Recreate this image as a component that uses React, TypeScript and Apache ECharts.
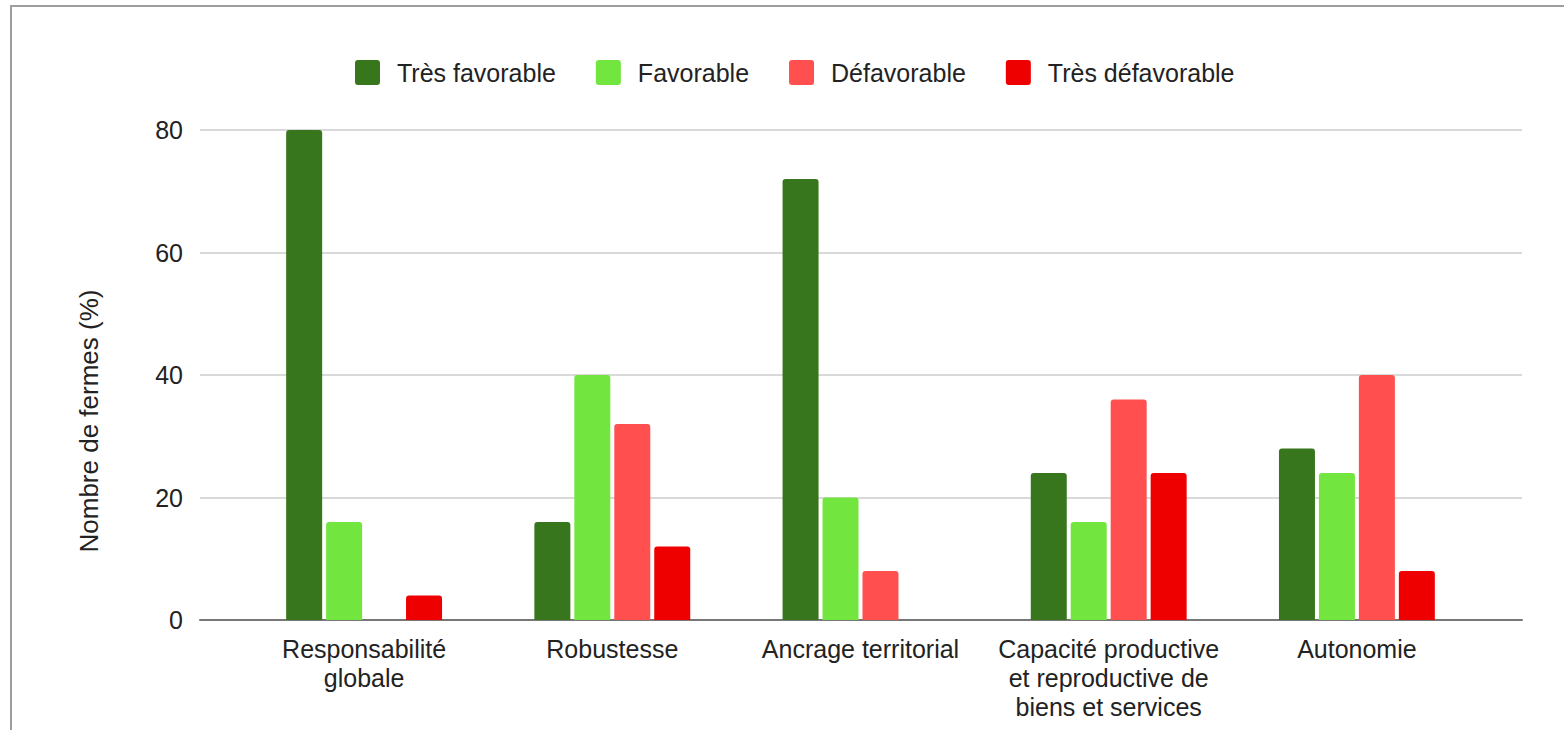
import React, { useEffect, useRef } from "react";
import * as echarts from "echarts";

const categories = [
  "Responsabilité\nglobale",
  "Robustesse",
  "Ancrage territorial",
  "Capacité productive\net reproductive de\nbiens et services",
  "Autonomie",
];
const seriesNames = ["Très favorable", "Favorable", "Défavorable", "Très défavorable"];
const tresFavorable = [80, 16, 72, 24, 28];
const favorable = [16, 40, 20, 16, 24];
const defavorable = [0, 32, 8, 36, 40];
const tresDefavorable = [4, 12, 0, 24, 8];
const colors = ["#38761d", "#72e63e", "#ff4f4f", "#ee0000"];
const yTicks = [0, 20, 40, 60, 80];
const yTitle = "Nombre de fermes (%)";

export default function App() {
  const ref = useRef<HTMLDivElement>(null);
  useEffect(() => {
    if (!ref.current) return;
    const chart = echarts.init(ref.current, null, { renderer: "svg" });
    const font = "'Liberation Sans', Arial, sans-serif";
    const values = [tresFavorable, favorable, defavorable, tresDefavorable];
    chart.setOption({
      animation: false,
      backgroundColor: "#ffffff",
      textStyle: { fontFamily: font },
      legend: {
        left: 355,
        top: 60,
        padding: 0,
        itemWidth: 25,
        itemHeight: 25,
        itemGap: 40,
        icon: "path://M3,0 L22,0 Q25,0 25,3 L25,22 Q25,25 22,25 L3,25 Q0,25 0,22 L0,3 Q0,0 3,0 Z",
        textStyle: { fontSize: 25, color: "#222", fontFamily: font, padding: [0, 0, 0, 12] },
        data: seriesNames,
      },
      grid: [
        { left: 200, right: 42, top: 130, bottom: 110 },
        { left: 240, right: 83, top: 130, bottom: 110 },
      ],
      xAxis: [
        {
          type: "value",
          gridIndex: 0,
          min: 0,
          max: 1,
          axisLabel: { show: false },
          axisTick: { show: false },
          splitLine: { show: false },
          axisLine: { show: true, lineStyle: { color: "#777", width: 2 } },
        },
        {
          type: "category",
          gridIndex: 1,
          data: categories,
          axisLine: { show: false },
          axisTick: { show: false },
          axisLabel: {
            fontSize: 25,
            color: "#222",
            fontFamily: font,
            margin: 14,
            lineHeight: 29,
            interval: 0,
          },
        },
      ],
      yAxis: [
        {
          type: "value",
          gridIndex: 0,
          min: yTicks[0],
          max: yTicks[yTicks.length - 1],
          interval: 20,
          axisLine: { show: false },
          axisTick: { show: false },
          axisLabel: { fontSize: 25, color: "#222", fontFamily: font, margin: 17 },
          splitLine: { lineStyle: { color: "#d9d9d9", width: 2 } },
        },
        {
          type: "value",
          gridIndex: 1,
          min: yTicks[0],
          max: yTicks[yTicks.length - 1],
          interval: 20,
          show: false,
          splitLine: { show: false },
        },
      ],
      graphic: [
        {
          type: "rect",
          shape: { x: 11, y: 6, width: 1700, height: 900 },
          style: { fill: "none", stroke: "#9e9e9e", lineWidth: 2 },
          silent: true,
        },
        {
          type: "text",
          x: 89,
          y: 421,
          rotation: Math.PI / 2,
          style: {
            text: yTitle,
            fontSize: 26,
            fontFamily: font,
            fill: "#222",
            align: "center",
            verticalAlign: "middle",
          },
        },
      ],
      series: seriesNames.map((name, i) => ({
        name,
        type: "bar",
        xAxisIndex: 1,
        yAxisIndex: 1,
        data: values[i],
        barWidth: 36,
        barGap: "11%",
        itemStyle: { color: colors[i], borderRadius: [3, 3, 0, 0] },
      })),
    });
    return () => chart.dispose();
  }, []);
  return (
    <div
      ref={ref}
      style={{ position: "fixed", left: 0, top: 0, width: 1564, height: 730 }}
    />
  );
}
